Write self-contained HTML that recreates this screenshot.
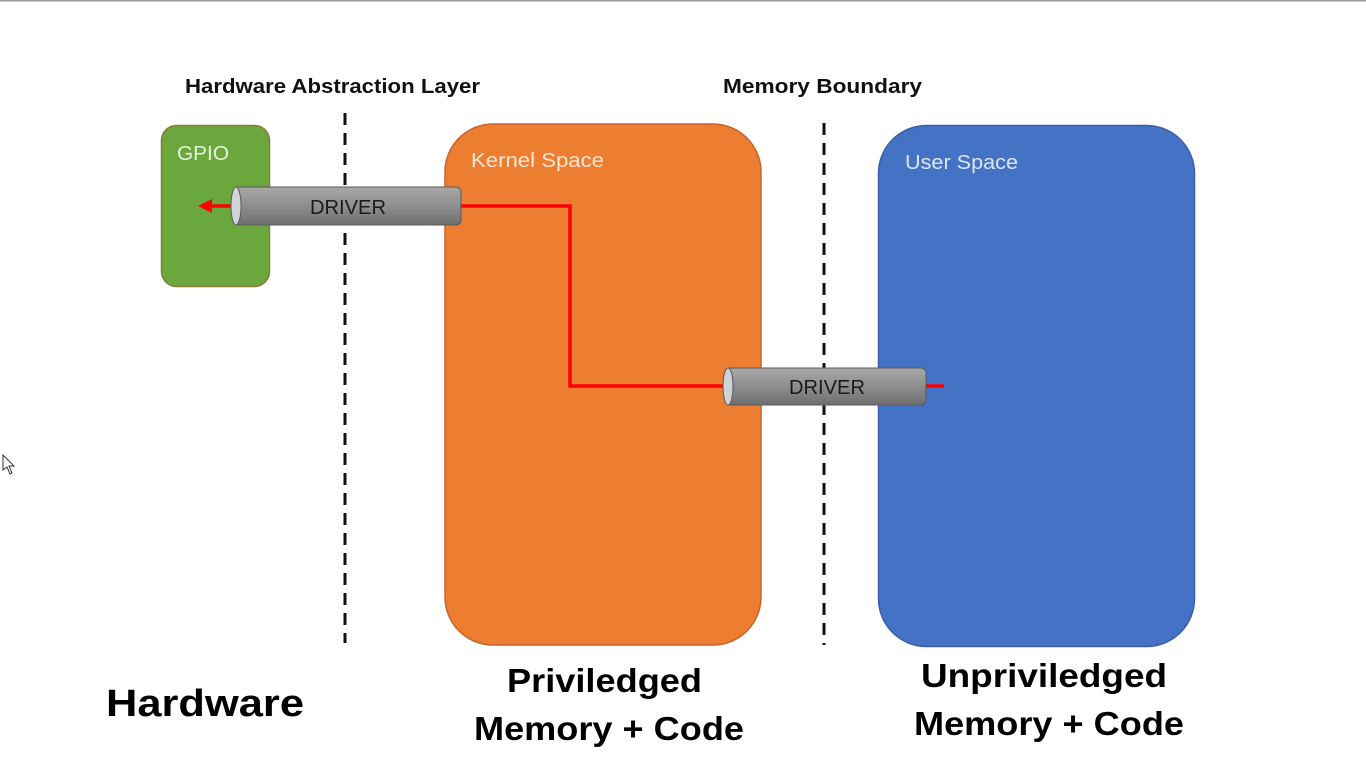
<!DOCTYPE html>
<html><head><meta charset="utf-8"><style>
html,body{margin:0;padding:0;background:#fff;}
svg{display:block;}
text{font-family:"Liberation Sans",sans-serif;}
</style></head><body>
<svg width="1366" height="768" viewBox="0 0 1366 768" xmlns="http://www.w3.org/2000/svg">
<defs>
<linearGradient id="cyl" x1="0" y1="0" x2="0" y2="1">
<stop offset="0" stop-color="#a8a8a8"/><stop offset="0.5" stop-color="#8e8e8e"/><stop offset="1" stop-color="#6e6e6e"/>
</linearGradient>
</defs>
<rect x="0" y="0" width="1366" height="1.5" fill="#9a9a9a"/>
<text x="185" y="93" font-size="20" font-weight="bold" fill="#111" textLength="295" lengthAdjust="spacingAndGlyphs">Hardware Abstraction Layer</text>
<text x="723" y="93" font-size="20" font-weight="bold" fill="#111" textLength="199" lengthAdjust="spacingAndGlyphs">Memory Boundary</text>
<rect x="161.5" y="125.5" width="108" height="161" rx="15" fill="#6aa83e" stroke="#8e7b3c" stroke-width="1.5"/>
<text x="177" y="160" font-size="20" fill="#e8f4dc" textLength="52" lengthAdjust="spacingAndGlyphs">GPIO</text>
<rect x="445" y="124" width="316" height="521" rx="48" fill="#ed7d31" stroke="#c8652a" stroke-width="1.5"/>
<text x="471" y="167" font-size="20" fill="#fbe5d3" textLength="133" lengthAdjust="spacingAndGlyphs">Kernel Space</text>
<rect x="878.5" y="125.5" width="316" height="521" rx="48" fill="#4472c4" stroke="#3a5fa8" stroke-width="1.5"/>
<text x="905" y="169" font-size="20" fill="#dde6f5" textLength="113" lengthAdjust="spacingAndGlyphs">User Space</text>
<line x1="345" y1="113" x2="345" y2="643" stroke="#111" stroke-width="3" stroke-dasharray="12,8"/>
<line x1="824" y1="123" x2="824" y2="645" stroke="#111" stroke-width="3" stroke-dasharray="12,8"/>
<polyline points="460,206 570,206 570,386 725,386" fill="none" stroke="#f00" stroke-width="3.5"/>
<line x1="925" y1="386" x2="944" y2="386" stroke="#f00" stroke-width="3.5"/>
<line x1="210" y1="206" x2="234" y2="206" stroke="#f00" stroke-width="3.5"/>
<polygon points="198,206 212,199 212,213" fill="#f00"/>
<rect x="234" y="187" width="227" height="38" rx="5" fill="url(#cyl)" stroke="#5a5a5a" stroke-width="1"/>
<ellipse cx="236" cy="206" rx="5" ry="19" fill="#cfd3d8" stroke="#5a5a5a" stroke-width="1"/>
<text x="310" y="214" font-size="20" fill="#1a1a1a" textLength="76" lengthAdjust="spacingAndGlyphs">DRIVER</text>
<rect x="726" y="368" width="200" height="37" rx="5" fill="url(#cyl)" stroke="#5a5a5a" stroke-width="1"/>
<ellipse cx="728" cy="386.5" rx="5" ry="18.5" fill="#cfd3d8" stroke="#5a5a5a" stroke-width="1"/>
<text x="789" y="394" font-size="20" fill="#1a1a1a" textLength="76" lengthAdjust="spacingAndGlyphs">DRIVER</text>
<text x="106" y="716" font-size="38" font-weight="bold" fill="#000" textLength="198" lengthAdjust="spacingAndGlyphs">Hardware</text>
<text x="507" y="692" font-size="33" font-weight="bold" fill="#000" textLength="195" lengthAdjust="spacingAndGlyphs">Priviledged</text>
<text x="474" y="740" font-size="33" font-weight="bold" fill="#000" textLength="270" lengthAdjust="spacingAndGlyphs">Memory + Code</text>
<text x="921" y="687" font-size="33" font-weight="bold" fill="#000" textLength="246" lengthAdjust="spacingAndGlyphs">Unpriviledged</text>
<text x="914" y="735" font-size="33" font-weight="bold" fill="#000" textLength="270" lengthAdjust="spacingAndGlyphs">Memory + Code</text>
<polygon points="3,455 3,470 7,467 10,474 12,473 9,466 14,466" fill="#fff" stroke="#333" stroke-width="1"/>
</svg>
</body></html>
